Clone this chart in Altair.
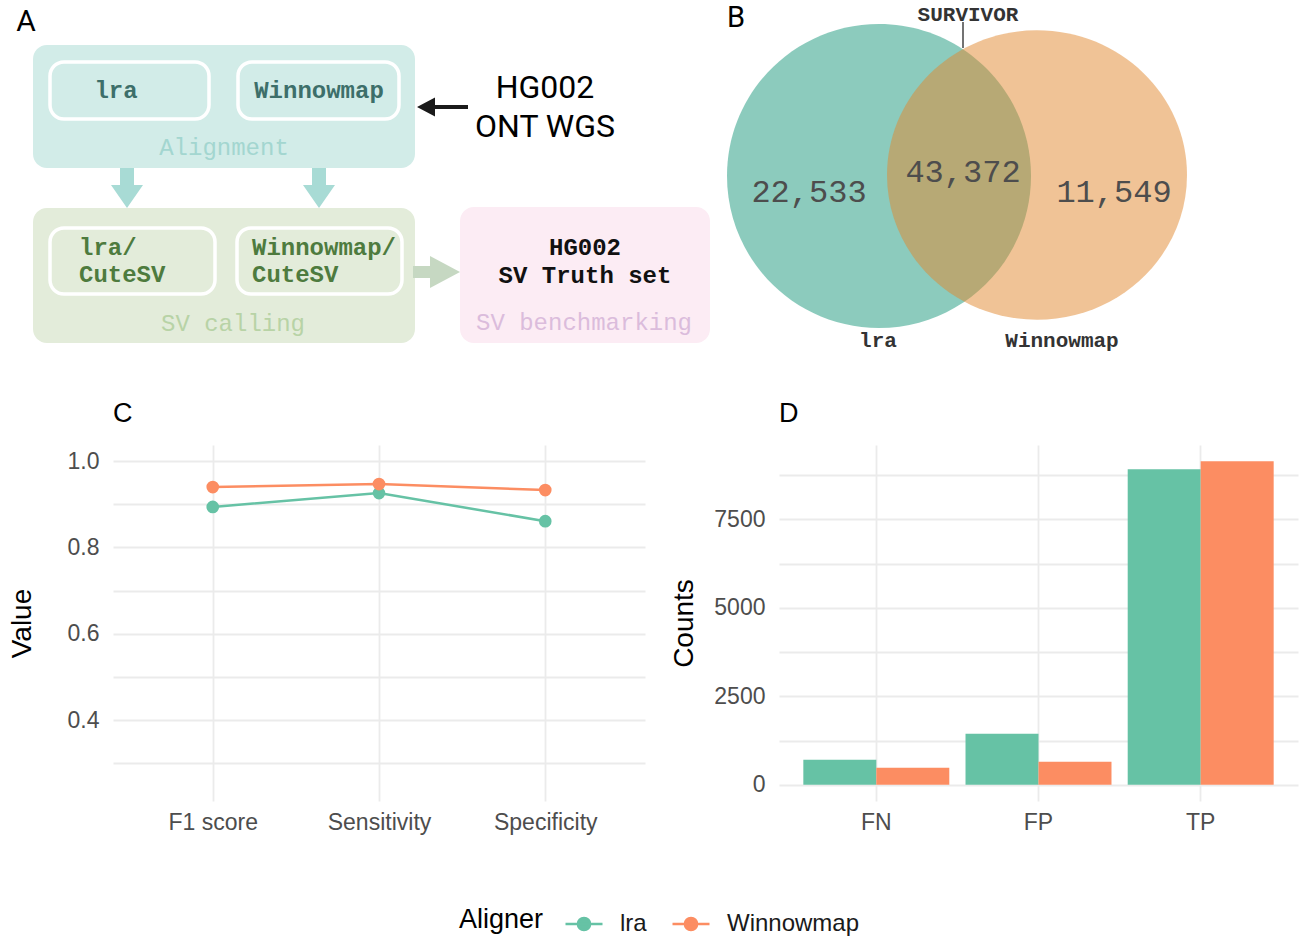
import altair as alt
import pandas as pd

# ---------------- data ----------------
aligners = ["lra", "Winnowmap"]
aligner_colors = ["#66c2a5", "#fc8d62"]

metrics = ["F1 score", "Sensitivity", "Specificity"]
lra_metric = [0.894, 0.926, 0.861]
winnowmap_metric = [0.940, 0.947, 0.933]

outcomes = ["FN", "FP", "TP"]
lra_counts = [708, 1444, 8918]
winnowmap_counts = [481, 651, 9145]

venn_sets = ["lra", "Winnowmap"]
venn_numbers = ["22,533", "43,372", "11,549"]
venn_tool = "SURVIVOR"

aligner_boxes = ["lra", "Winnowmap"]
caller_lines = [["lra/", "CuteSV"], ["Winnowmap/", "CuteSV"]]
step_names = ["Alignment", "SV calling", "SV benchmarking"]
input_lines = ["HG002", "ONT WGS"]
truth_lines = ["HG002", "SV Truth set"]
panel_labels = ["A", "B", "C", "D"]

# ---------------- layout constants ----------------
PAD_LEFT = 8
PLOT_LEFT = 113          # absolute x of panel C plot area (shared origin of both rows)
W_TOP, H_TOP = 1299, 365

# ---------------- top row (diagram + Venn), diagram units ----------------
xs = alt.Scale(domain=[PLOT_LEFT, W_TOP], nice=False, zero=False)
ys = alt.Scale(domain=[0, H_TOP], nice=False, zero=False, reverse=True)
X = alt.X("x:Q", scale=xs, axis=None)
Y = alt.Y("y:Q", scale=ys, axis=None)

teal_bg, green_bg, pink_bg = "#d2ece8", "#e3ecda", "#fcecf4"

outer = pd.DataFrame({
    "x": [33, 33, 460], "x2": [415, 415, 710],
    "y": [45, 208, 207], "y2": [168, 343, 343],
    "fill": [teal_bg, green_bg, pink_bg],
})
inner = pd.DataFrame({
    "x": [50, 238, 50, 237], "x2": [209, 399, 215, 402],
    "y": [62, 62, 228, 228], "y2": [119, 119, 294, 294],
    "fill": [teal_bg, teal_bg, green_bg, green_bg],
})

def rects(df, **kw):
    return alt.Chart(df).mark_rect(**kw).encode(
        x=X, x2="x2:Q", y=Y, y2="y2:Q", fill=alt.Fill("fill:N", scale=None))

outer_l = rects(outer, cornerRadius=14)
inner_l = rects(inner, cornerRadius=14, stroke="white", strokeWidth=3.5)

def symbols(df, path, size, opacity=1.0):
    return alt.Chart(df).mark_point(shape=path, size=size, filled=True,
                                    strokeWidth=0, opacity=opacity).encode(
        x=X, y=Y, fill=alt.Fill("fill:N", scale=None))

down_path = "M-0.35,-1L0.35,-1L0.35,-0.15L0.8,-0.15L0,1L-0.8,-0.15L-0.35,-0.15Z"
right_path = "M-1.2,-0.3L-0.35,-0.3L-0.35,-0.8L1.15,0L-0.35,0.8L-0.35,0.3L-1.2,0.3Z"
left_path = "M-1.25,0L-0.35,-0.475L-0.35,-0.1L1.3,-0.1L1.3,0.1L-0.35,0.1L-0.35,0.475Z"

down_l = symbols(pd.DataFrame({"x": [127, 319], "y": [188, 188], "fill": ["#a8dbd5"] * 2}), down_path, 1600)
right_l = symbols(pd.DataFrame({"x": [437], "y": [272], "fill": ["#c6d8c2"]}), right_path, 1600)
input_l = symbols(pd.DataFrame({"x": [442], "y": [107], "fill": ["#1a1a1a"]}), left_path, 1600)

# Venn
circle_path = "M1,0A1,1,0,1,1,-1,0A1,1,0,1,1,1,0Z"
ellipse_path = "M1,0A1,0.965,0,1,1,-1,0A1,0.965,0,1,1,1,0Z"
venn_a = symbols(pd.DataFrame({"x": [879], "y": [176], "fill": ["#19977b"], "set": [venn_sets[0]]}),
                 circle_path, 304 * 304, opacity=0.5)
venn_b = symbols(pd.DataFrame({"x": [1037], "y": [175], "fill": ["#e1872d"], "set": [venn_sets[1]]}),
                 ellipse_path, 300 * 300, opacity=0.5)
survivor_rule = alt.Chart(pd.DataFrame({"x": [963], "y": [22], "y2": [48]})).mark_rule(
    color="#444444", strokeWidth=1.5).encode(x=X, y=Y, y2="y2:Q")

def texts(rows, font, weight, align="center"):
    df = pd.DataFrame(rows, columns=["label", "x", "y", "fill", "fs"])
    return alt.Chart(df).mark_text(font=font, fontWeight=weight, align=align, baseline="middle").encode(
        x=X, y=Y, text="label:N",
        fill=alt.Fill("fill:N", scale=None), size=alt.Size("fs:Q", scale=None))

MONO = "Liberation Mono"
teal_txt, green_txt = "#3d6f6a", "#4e7b3e"
mono_bold_c = texts([
    (aligner_boxes[0], 116, 91, teal_txt, 24),
    (aligner_boxes[1], 319, 91, teal_txt, 24),
    (truth_lines[0], 585, 248, "#111111", 24),
    (truth_lines[1], 585, 276, "#111111", 24),
    (venn_tool, 968, 15, "#333333", 21),
    (venn_sets[0], 878, 341, "#333333", 21),
    (venn_sets[1], 1062, 341, "#333333", 21),
], MONO, "bold")
mono_bold_l = texts([
    (caller_lines[0][0], 79, 248, green_txt, 24),
    (caller_lines[0][1], 79, 275, green_txt, 24),
    (caller_lines[1][0], 252, 248, green_txt, 24),
    (caller_lines[1][1], 252, 275, green_txt, 24),
], MONO, "bold", align="left")
mono_reg = texts([
    (step_names[0], 224, 148, "#a3d6d0", 24),
    (step_names[1], 233, 324, "#b8d3a6", 24),
    (step_names[2], 584, 323, "#dbbcdc", 24),
    (venn_numbers[0], 809, 192, "#4d4d4d", 32),
    (venn_numbers[1], 963, 172, "#4d4d4d", 32),
    (venn_numbers[2], 1114, 192, "#4d4d4d", 32),
], MONO, "normal")
sans = texts([
    (input_lines[0], 545, 88, "#000000", 32),
    (input_lines[1], 545, 127, "#000000", 32),
    (panel_labels[0], 26, 22, "#000000", 30),
    (panel_labels[1], 736, 18, "#000000", 29),
], "Roboto", "normal")

top = alt.layer(outer_l, inner_l, down_l, right_l, input_l, venn_a, venn_b, survivor_rule,
                mono_bold_c, mono_bold_l, mono_reg, sans).properties(width=W_TOP - PLOT_LEFT, height=H_TOP)

# ---------------- bottom row: panels C and D ----------------
SANS = "Liberation Sans"
color_scale = alt.Scale(domain=aligners, range=aligner_colors)
legend = alt.Legend(
    orient="none", legendX=459 - PLOT_LEFT, legendY=904, direction="horizontal",
    title="Aligner", titleOrient="left", titleFont=SANS, titleFontSize=27,
    titleFontWeight="normal", titleColor="#000000", titleBaseline="middle", titleAnchor="middle",
    titlePadding=20, labelFont=SANS, labelFontSize=24, labelColor="#1a1a1a",
    symbolType="M-1,0L1,0M0.33,0A0.33,0.33,0,1,1,-0.33,0A0.33,0.33,0,1,1,0.33,0Z",
    symbolSize=1369, symbolStrokeWidth=2.5, labelOffset=16, columnPadding=20,
)
color_enc = alt.Color("Aligner:N", scale=color_scale, legend=legend)

axis_common = dict(domain=False, ticks=False, gridColor="#ebebeb", gridWidth=1.8,
                   labelFont=SANS, labelFontSize=23, labelColor="#4d4d4d",
                   titleFont=SANS, titleFontSize=28, titleColor="#000000",
                   titleFontWeight="normal")

metric_df = pd.DataFrame({
    "Metric": metrics * 2,
    "Value": lra_metric + winnowmap_metric,
    "Aligner": [aligners[0]] * 3 + [aligners[1]] * 3,
})
y_vals_c = [0.3, 0.4, 0.5, 0.6, 0.7, 0.8, 0.9, 1.0]
xC = alt.X("Metric:N", sort=metrics, scale=alt.Scale(type="point", padding=0.6),
           axis=alt.Axis(title=None, grid=True, labelAngle=0, labelPadding=10, **axis_common))
yC = alt.Y("Value:Q", scale=alt.Scale(domain=[0.2125, 1.0375], nice=False, zero=False),
           axis=alt.Axis(title="Value", values=y_vals_c, grid=True, labelPadding=14,
                         titlePadding=39 - PAD_LEFT,
                         labelExpr="indexof(['0.4','0.6','0.8','1.0'], format(datum.value,'.1f')) >= 0 ? format(datum.value,'.1f') : ''",
                         **axis_common))
base_c = alt.Chart(metric_df)
line_c = base_c.mark_line(strokeWidth=2.5).encode(x=xC, y=yC, color=color_enc)
pts_c = base_c.mark_point(filled=True, size=160, opacity=1).encode(x=xC, y=yC, color=color_enc)
panel_title = dict(anchor="start", frame="group", fontSize=27, font=SANS, fontWeight="normal",
                   color="#000000", offset=17)
C = alt.layer(line_c, pts_c).properties(width=532, height=356,
                                        title=alt.TitleParams(panel_labels[2], **panel_title))

count_df = pd.DataFrame({
    "Outcome": outcomes * 2,
    "Counts": lra_counts + winnowmap_counts,
    "Aligner": [aligners[0]] * 3 + [aligners[1]] * 3,
})
y_vals_d = [0, 1250, 2500, 3750, 5000, 6250, 7500, 8750]
D = alt.Chart(count_df).mark_bar().encode(
    x=alt.X("Outcome:N", sort=outcomes,
            scale=alt.Scale(paddingInner=0.1, paddingOuter=0.15),
            axis=alt.Axis(title=None, grid=True, bandPosition=0.5, labelAngle=0, labelPadding=10,
                          **axis_common)),
    xOffset=alt.XOffset("Aligner:N", sort=aligners),
    y=alt.Y("Counts:Q", scale=alt.Scale(domain=[-457, 9602], nice=False, zero=False),
            axis=alt.Axis(title="Counts", values=y_vals_d, grid=True, labelPadding=14, titlePadding=15,
                          labelExpr="datum.value % 2500 == 0 ? format(datum.value,'d') : ''",
                          **axis_common)),
    color=color_enc,
).properties(width=519, height=356, title=alt.TitleParams(panel_labels[3], **panel_title))

row2 = alt.hconcat(C, D, spacing=25).resolve_scale(color="shared", x="independent", y="independent")

chart = alt.vconcat(top, row2, spacing=35).resolve_scale(
    color="shared", x="independent", y="independent"
).properties(padding={"left": PAD_LEFT, "top": 0, "right": 0, "bottom": 0}
).configure(background="white").configure_view(stroke=None)

chart.save("out.html", embed_options={"renderer": "svg", "actions": False})
